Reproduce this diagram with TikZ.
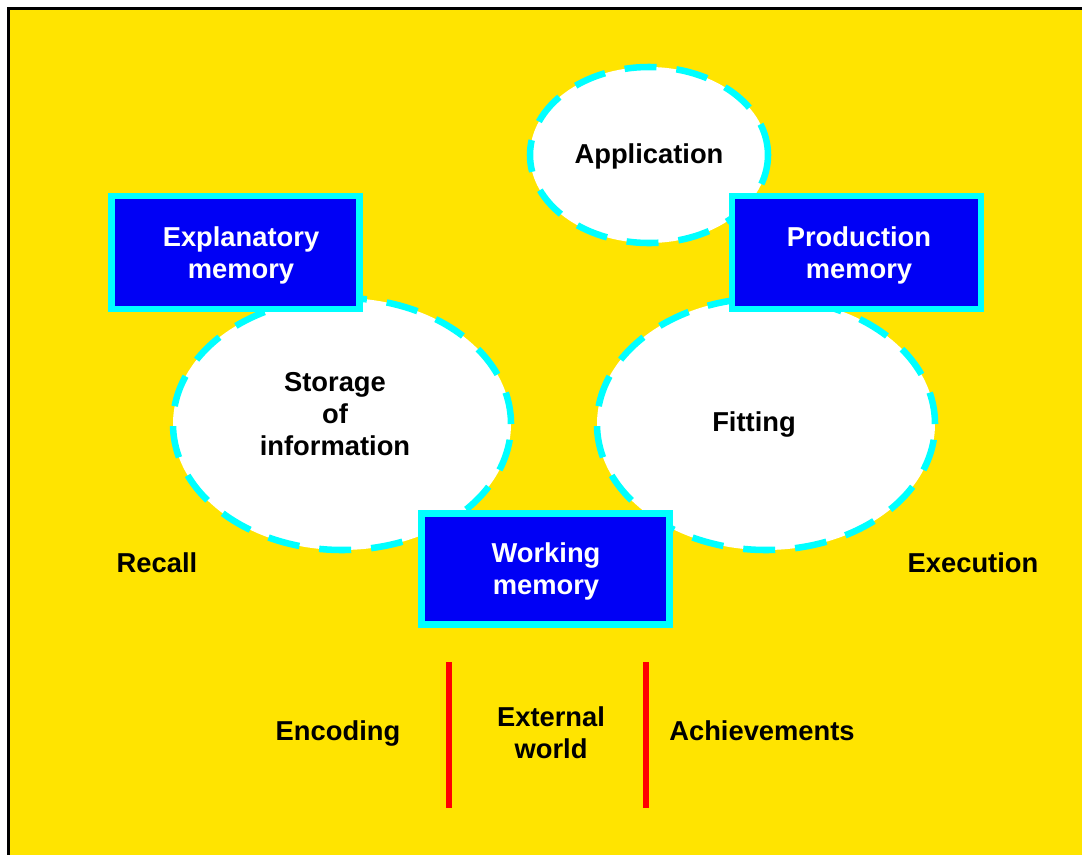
\documentclass[tikz,border=0pt]{standalone}
\usepackage{fontspec}
\setmainfont{Liberation Sans}
\usetikzlibrary{shapes.geometric}
\definecolor{bgyellow}{RGB}{255,228,0}
\definecolor{boxblue}{RGB}{0,0,245}
\definecolor{rimcyan}{RGB}{0,255,255}
\definecolor{barred}{RGB}{255,0,0}
\tikzset{
  lbl/.style={font=\fontsize{20.5pt}{24pt}\selectfont\bfseries, align=center,
    text=black, text depth=0pt},
  boxtext/.style={lbl, text=white},
  membox/.style={draw=rimcyan, fill=boxblue, line width=4.9pt, rectangle,
    inner sep=0pt},
  cloud/.style={ellipse, draw=rimcyan, fill=white, line width=4.9pt,
    dash pattern=on 24pt off 15pt, inner sep=0pt},
  divider/.style={draw=barred, line width=4.5pt}
}
\begin{document}
\begin{tikzpicture}[x=0.75pt,y=-0.75pt]
\useasboundingbox (0,0) rectangle (1082,854);
% page frame
\fill[white] (0,0) rectangle (1082,854);
\fill[bgyellow] (8.5,8.5) rectangle (1090,860);
\draw[black, line width=2.3pt] (8.5,860) -- (8.5,8.5) -- (1090,8.5);

% dashed process ellipses
\node[cloud, minimum width=178.5pt, minimum height=132pt] (app) at (649,155) {};
\node[cloud, minimum width=253.5pt, minimum height=189pt] (store) at (342,424) {};
\node[cloud, minimum width=253.5pt, minimum height=189pt] (fit) at (766,424) {};
\node[lbl] (appt) at (649,154) {Application};
\node[lbl] (storet) at (335,414) {Storage\\of\\information};
\node[lbl] (fitt) at (754,422) {Fitting};

% memory boxes
\node[membox, minimum width=186pt, minimum height=84.5pt] (expl) at (235.5,252.5) {};
\node[membox, minimum width=187pt, minimum height=84.5pt] (prod) at (856.5,252.5) {};
\node[membox, minimum width=186pt, minimum height=83.5pt] (work) at (545.5,569) {};
\node[boxtext] (explt) at (241,253) {Explanatory\\memory};
\node[boxtext] (prodt) at (859,253) {Production\\memory};
\node[boxtext] (workt) at (546,569) {Working\\memory};

% side labels
\node[lbl] (recall) at (157,563) {Recall};
\node[lbl] (exec) at (973,563) {Execution};
\node[lbl] (enc) at (338,731) {Encoding};
\node[lbl] (ext) at (551,733) {External\\world};
\node[lbl] (ach) at (762,731) {Achievements};

% dividers
\coordinate (d1t) at (449,662);
\coordinate (d1b) at (449,808);
\coordinate (d2t) at (646,662);
\coordinate (d2b) at (646,808);
\draw[divider] (d1t) -- (d1b);
\draw[divider] (d2t) -- (d2b);
\end{tikzpicture}
\end{document}
